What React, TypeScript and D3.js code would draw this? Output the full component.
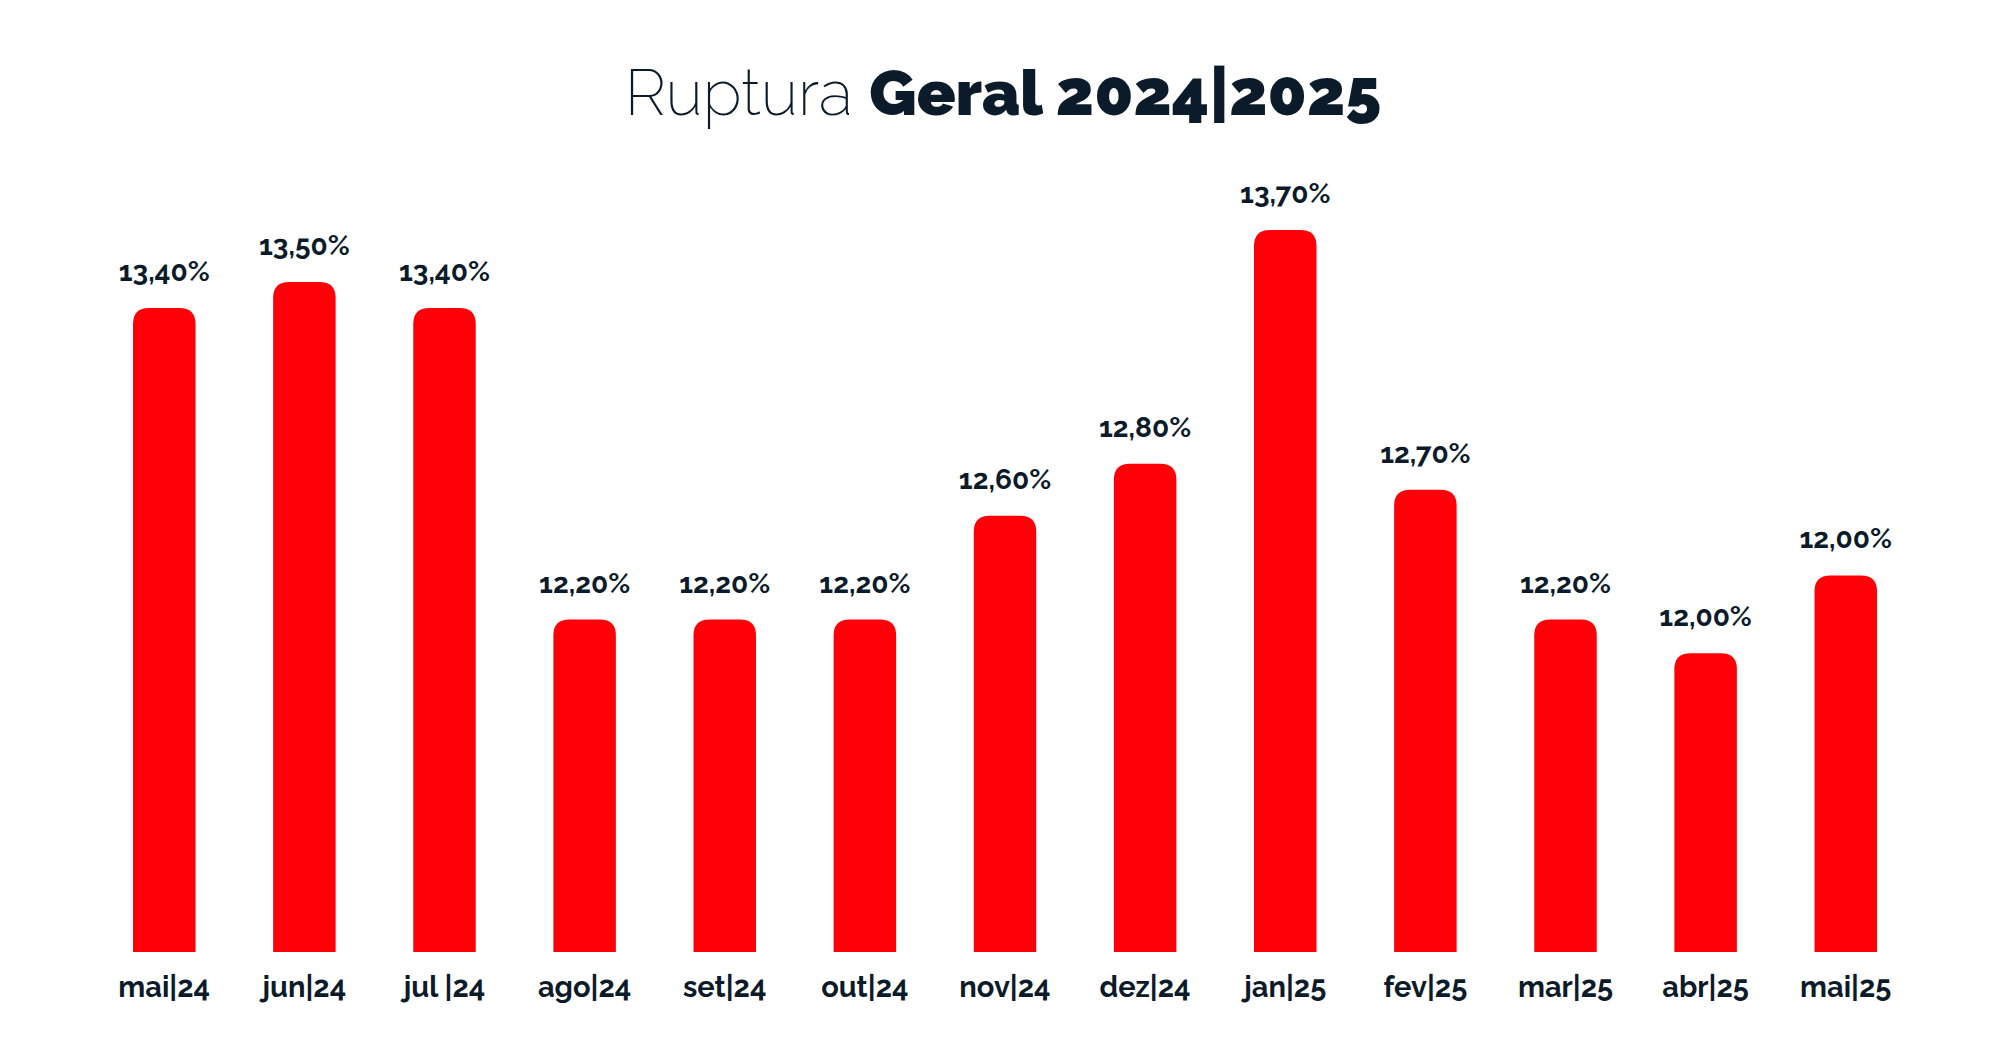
import React from "react";
import * as d3 from "d3";

const categories = ["mai|24", "jun|24", "jul |24", "ago|24", "set|24", "out|24", "nov|24", "dez|24", "jan|25", "fev|25", "mar|25", "abr|25", "mai|25"];
// bar heights (percent)
const values = [13.4, 13.5, 13.4, 12.2, 12.2, 12.2, 12.6, 12.8, 13.7, 12.7, 12.2, 12.07, 12.37];
// value labels as printed on the chart
const valueLabels = ["13,40%", "13,50%", "13,40%", "12,20%", "12,20%", "12,20%", "12,60%", "12,80%", "13,70%", "12,70%", "12,20%", "12,00%", "12,00%"];
const titleLight = "Ruptura";
const titleBold = "Geral 2024|2025";

const W = 2000;
const H = 1060;
const baseY = 952;
const red = "#ff0009";
const ink = "#0c1b2a";
const font = "Raleway, Lato, 'Open Sans', sans-serif";

function topRoundedBar(x: number, y: number, w: number, h: number, r: number) {
  const rr = Math.min(r, w / 2, h);
  return `M${x},${y + h}V${y + rr}Q${x},${y} ${x + rr},${y}H${x + w - rr}Q${x + w},${y} ${x + w},${y + rr}V${y + h}Z`;
}

export default function App() {
  const x = d3
    .scaleBand<string>()
    .domain(categories)
    .range([133, 1877])
    .paddingInner(0.554)
    .paddingOuter(0);
  const y = d3.scaleLinear().domain([10.92, 13.7]).range([baseY, 230]);
  const bw = x.bandwidth();

  return (
    <svg
      width={W}
      height={H}
      viewBox={`0 0 ${W} ${H}`}
      style={{ position: "absolute", left: 0, top: 0, background: "#fff" }}
    >
      <rect x={0} y={0} width={W} height={H} fill="#fff" />
      <text
        x={1003}
        y={115}
        textAnchor="middle"
        fontFamily={font}
        fontSize={64}
        fill={ink}
      >
        <tspan fontWeight={200}>{titleLight} </tspan>
        <tspan fontWeight={900}>{titleBold}</tspan>
      </text>
      <g>
        {categories.map((c, i) => {
          const bx = x(c) as number;
          const by = y(values[i]);
          return (
            <g key={c + i}>
              <path d={topRoundedBar(bx, by, bw, baseY - by, 16)} fill={red} />
              <text
                x={bx + bw / 2}
                y={by - 27}
                textAnchor="middle"
                fontFamily={font}
                fontWeight={700}
                fontSize={28}
                fill={ink}
              >
                {valueLabels[i]}
              </text>
              <text
                x={bx + bw / 2}
                y={997}
                textAnchor="middle"
                fontFamily={font}
                fontWeight={700}
                fontSize={29}
                fill={ink}
              >
                {c}
              </text>
            </g>
          );
        })}
      </g>
    </svg>
  );
}
